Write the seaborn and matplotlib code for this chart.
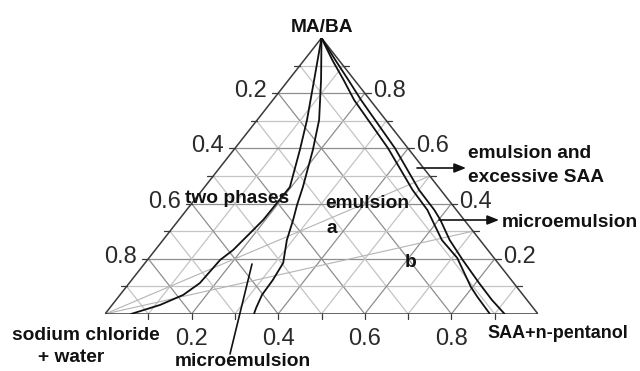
import numpy as np
import pandas as pd
import matplotlib
matplotlib.use("Agg")
import matplotlib.pyplot as plt
import seaborn as sns

sns.set_theme(style="white")
plt.rcParams['font.family'] = ['Liberation Sans', 'DejaVu Sans']

# ---------------- data (ternary fractions: SAA, MA/BA) ----------------
tick_values = [0.2, 0.4, 0.6, 0.8]
tick_labels = ["0.2", "0.4", "0.6", "0.8"]

two_phase_saa = [0.0, 0.059, 0.115, 0.153, 0.197, 0.196, 0.195, 0.190, 0.180, 0.168, 0.163, 0.146, 0.111, 0.060]
two_phase_maba = [1.0, 0.848, 0.703, 0.594, 0.460, 0.402, 0.341, 0.304, 0.232, 0.196, 0.112, 0.069, 0.033, 0.0]

micro_left_saa = [0.0, 0.075, 0.143, 0.183, 0.227, 0.246, 0.264, 0.286, 0.319, 0.326, 0.328, 0.338, 0.344]
micro_left_maba = [1.0, 0.848, 0.703, 0.594, 0.460, 0.395, 0.341, 0.268, 0.185, 0.123, 0.069, 0.022, 0.0]

emul_right_saa = [0.0, 0.065, 0.127, 0.188, 0.353, 0.486, 0.556, 0.585, 0.644, 0.712, 0.796, 0.829, 0.889]
emul_right_maba = [1.0, 0.920, 0.848, 0.775, 0.601, 0.449, 0.377, 0.341, 0.268, 0.203, 0.098, 0.062, 0.0]

micro_right_saa = [0.0, 0.072, 0.138, 0.204, 0.369, 0.501, 0.572, 0.604, 0.662, 0.728, 0.808, 0.868, 0.923]
micro_right_maba = [1.0, 0.920, 0.848, 0.775, 0.601, 0.449, 0.377, 0.341, 0.268, 0.196, 0.112, 0.051, 0.0]

# dilution lines from the water vertex: end points on SAA/(MA/BA) edge
dilution_names = ["a", "b"]
dilution_saa = [0.5, 0.7]
dilution_maba = [0.5, 0.3]

# ---------------- figure ----------------
W, H = 640, 371
fig = plt.figure(figsize=(W / 100, H / 100), dpi=100)
L, R, TOP, BOT = 105, 538, 38, 314
ax = fig.add_axes([L / W, (H - BOT) / H, (R - L) / W, (BOT - TOP) / H])
ax.set_xlim(0, 1)
ax.set_ylim(0, 1)
ax.axis('off')


def xy(s, m):
    s = np.asarray(s, float)
    m = np.asarray(m, float)
    return s + m / 2.0, m


def fp(x, y):
    return x / W, 1 - y / H


# grid
for k in range(1, 10):
    v = k / 10
    col = '#8e8e8e' if k % 2 == 0 else '#c4c4c4'
    segs = [((0, v), (1 - v, v)),          # const MA/BA
            ((v, 0), (v, 1 - v)),          # const SAA
            ((1 - v, 0), (0, 1 - v))]      # const water
    for (s0, m0), (s1, m1) in segs:
        X, Y = xy([s0, s1], [m0, m1])
        ax.plot(X, Y, color=col, lw=0.9, zorder=1, solid_capstyle='butt')

# dilution lines
for s, m in zip(dilution_saa, dilution_maba):
    X, Y = xy([0, s], [0, m])
    ax.plot(X, Y, color='#b4b4b4', lw=0.8, zorder=1.5)

# triangle edges
X, Y = xy([0, 1, 0, 0], [0, 0, 1, 0])
ax.plot(X, Y, color='#3a3a3a', lw=1.1, zorder=2, solid_joinstyle='miter')

# ticks
dx = 6 / (R - L)
dy = 5 / (BOT - TOP)
for k in range(1, 10):
    v = k / 10
    ax.plot([v, v], [0, -dy], color='#3a3a3a', lw=0.9, clip_on=False)
    lx, ly = xy(0, 1 - v)
    ax.plot([lx, lx - dx], [ly, ly], color='#3a3a3a', lw=0.9, clip_on=False)
    rx, ry = xy(1 - v, v)
    ax.plot([rx, rx + dx], [ry, ry], color='#3a3a3a', lw=0.9, clip_on=False)

# phase boundary curves
curves = [(two_phase_saa, two_phase_maba), (micro_left_saa, micro_left_maba),
          (emul_right_saa, emul_right_maba), (micro_right_saa, micro_right_maba)]
for s, m in curves:
    X, Y = xy(s, m)
    df = pd.DataFrame({'X': X, 'Y': Y})
    sns.lineplot(data=df, x='X', y='Y', sort=False, estimator=None,
                 color='#111111', lw=1.3, ax=ax, zorder=3)
ax.set_xlim(0, 1)
ax.set_ylim(0, 1)
ax.axis('off')

# tick labels
tfs = 17
tcol = '#2a2a2a'
for v, lab in zip(tick_values, tick_labels):
    # left (water) labels
    t = v
    edge_x = 321.5 - t * 216.5
    line_y = TOP + t * (BOT - TOP)
    fig.text(*fp(edge_x - 11, line_y + 4), lab, ha='right', va='baseline',
             fontsize=tfs, color=tcol)
    # right (MA/BA) labels: value = 1 - t
    t = 1 - v
    edge_x = 321.5 + t * 216.5
    line_y = TOP + t * (BOT - TOP)
    fig.text(*fp(edge_x + 8, line_y + 4), lab, ha='left', va='baseline',
             fontsize=tfs, color=tcol)
    # bottom (SAA) labels
    fig.text(*fp(L + v * (R - L), 345), lab, ha='center', va='baseline',
             fontsize=tfs, color=tcol)

# annotations
bfs = 13.8
kw = dict(fontsize=bfs, fontweight='bold', color='#111111', va='baseline')
fig.text(*fp(322, 32), "MA/BA", ha='center', **kw)
fig.text(*fp(185, 203), "two phases", ha='left', **kw)
fig.text(*fp(325, 208), "emulsion", ha='left', **kw)
fig.text(*fp(332, 233), dilution_names[0], ha='center', **kw)
fig.text(*fp(411, 267), dilution_names[1], ha='center', **kw)
fig.text(*fp(468, 158), "emulsion and", ha='left', **kw)
fig.text(*fp(468, 182), "excessive SAA", ha='left', **kw)
fig.text(*fp(502, 227), "microemulsion", ha='left', **kw)
fig.text(*fp(12, 340), "sodium chloride", ha='left', **kw)
fig.text(*fp(38, 362), "+ water", ha='left', **kw)
fig.text(*fp(175, 366), "microemulsion", ha='left', **kw)
fig.text(*fp(487, 338), "SAA+n-pentanol", ha='left', **{**kw, 'fontsize': 13})

arrow_kw = dict(arrowstyle='-|>,head_length=0.7,head_width=0.28', color='#111111',
                lw=1.2, shrinkA=0, shrinkB=0, mutation_scale=10)
fig.add_artist(matplotlib.patches.FancyArrowPatch(fp(417, 168), fp(466, 168),
               transform=fig.transFigure, **arrow_kw))
fig.add_artist(matplotlib.patches.FancyArrowPatch(fp(439, 220), fp(499, 220),
               transform=fig.transFigure, **arrow_kw))
fig.add_artist(matplotlib.lines.Line2D([fp(252, 264)[0], fp(230, 354)[0]],
                                       [fp(252, 264)[1], fp(230, 354)[1]],
                                       transform=fig.transFigure, color='#111111', lw=1.2))

fig.savefig('out.png', dpi=100)
